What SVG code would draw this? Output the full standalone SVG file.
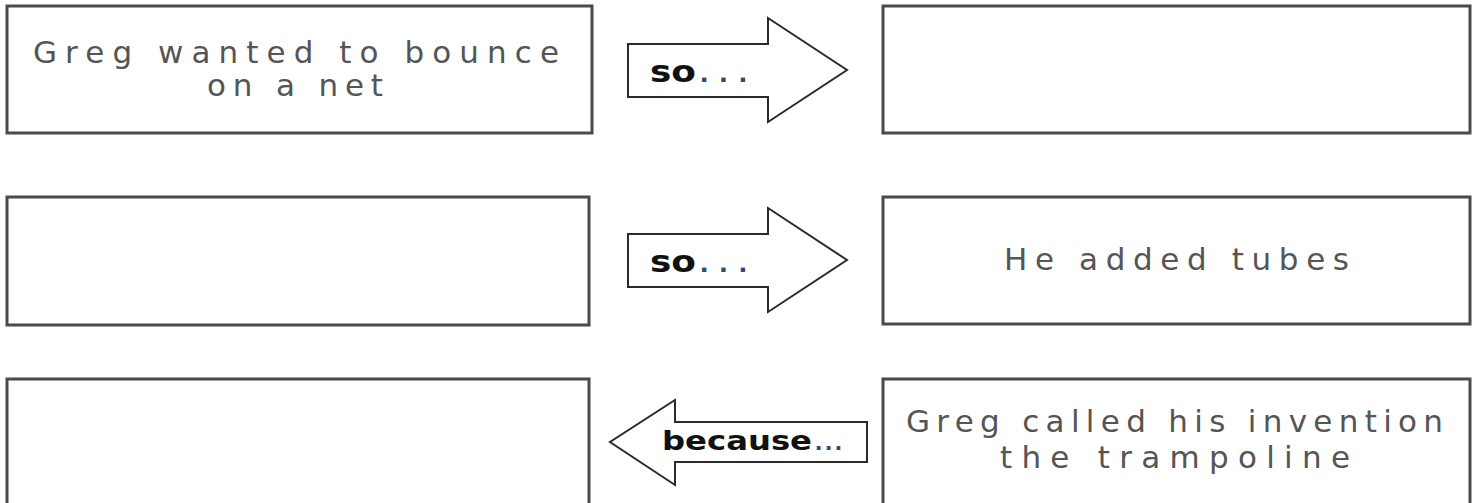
<svg xmlns="http://www.w3.org/2000/svg" width="1477" height="503" viewBox="0 0 1477 503">
<style>
.box{fill:#fff;stroke:#4a4a4a;stroke-width:3}
.arrow{fill:#fff;stroke:#2a2a2a;stroke-width:2;stroke-linejoin:miter}
.t{font-family:"DejaVu Sans","Liberation Sans",sans-serif;font-size:31px;fill:#555}
.a{font-family:"DejaVu Sans","Liberation Sans",sans-serif;font-weight:bold;fill:#111}
.d{font-family:"Liberation Sans",sans-serif;font-weight:bold;fill:#2a4a7a;font-variant-ligatures:none}
</style>
<rect width="1477" height="503" fill="#fff"/>
<g id="node-1">
<rect class="box" x="7" y="6" width="585" height="127"/>
<text class="t" x="33" y="63" textLength="526" lengthAdjust="spacing">Greg wanted to bounce</text>
<text class="t" x="207" y="96" textLength="176" lengthAdjust="spacing">on a net</text>
</g>
<g id="node-2">
<rect class="box" x="883" y="6" width="587" height="127"/>
</g>
<g id="node-3">
<rect class="box" x="7" y="197" width="582" height="128"/>
</g>
<g id="node-4">
<rect class="box" x="883" y="197" width="587" height="127"/>
<text class="t" x="1004" y="270" textLength="345" lengthAdjust="spacing">He added tubes</text>
</g>
<g id="node-5">
<rect class="box" x="7" y="379" width="582" height="130"/>
</g>
<g id="node-6">
<rect class="box" x="883" y="379" width="587" height="130"/>
<text class="t" x="906" y="432" textLength="537" lengthAdjust="spacing">Greg called his invention</text>
<text class="t" x="1000" y="468" textLength="350" lengthAdjust="spacing">the trampoline</text>
</g>
<g id="connectors">
<polygon class="arrow" points="628,44 768,44 768,18 847,70 768,122 768,97 628,97"/>
<text class="a" x="650" y="82" font-size="30" textLength="46" lengthAdjust="spacingAndGlyphs">so</text>
<text class="d" x="700" y="82" font-size="30" textLength="47" lengthAdjust="spacing">...</text>
<polygon class="arrow" points="628,234 768,234 768,208 847,260 768,312 768,287 628,287"/>
<text class="a" x="650" y="272" font-size="30" textLength="46" lengthAdjust="spacingAndGlyphs">so</text>
<text class="d" x="700" y="272" font-size="30" textLength="47" lengthAdjust="spacing">...</text>
<polygon class="arrow" points="867,422 675,422 675,400 610,442 675,485 675,462 867,462"/>
<text class="a" x="662" y="450" font-size="26" textLength="150" lengthAdjust="spacingAndGlyphs">because</text>
<text class="d" x="815" y="450" font-size="26" textLength="27" lengthAdjust="spacing">...</text>
</g>
</svg>
